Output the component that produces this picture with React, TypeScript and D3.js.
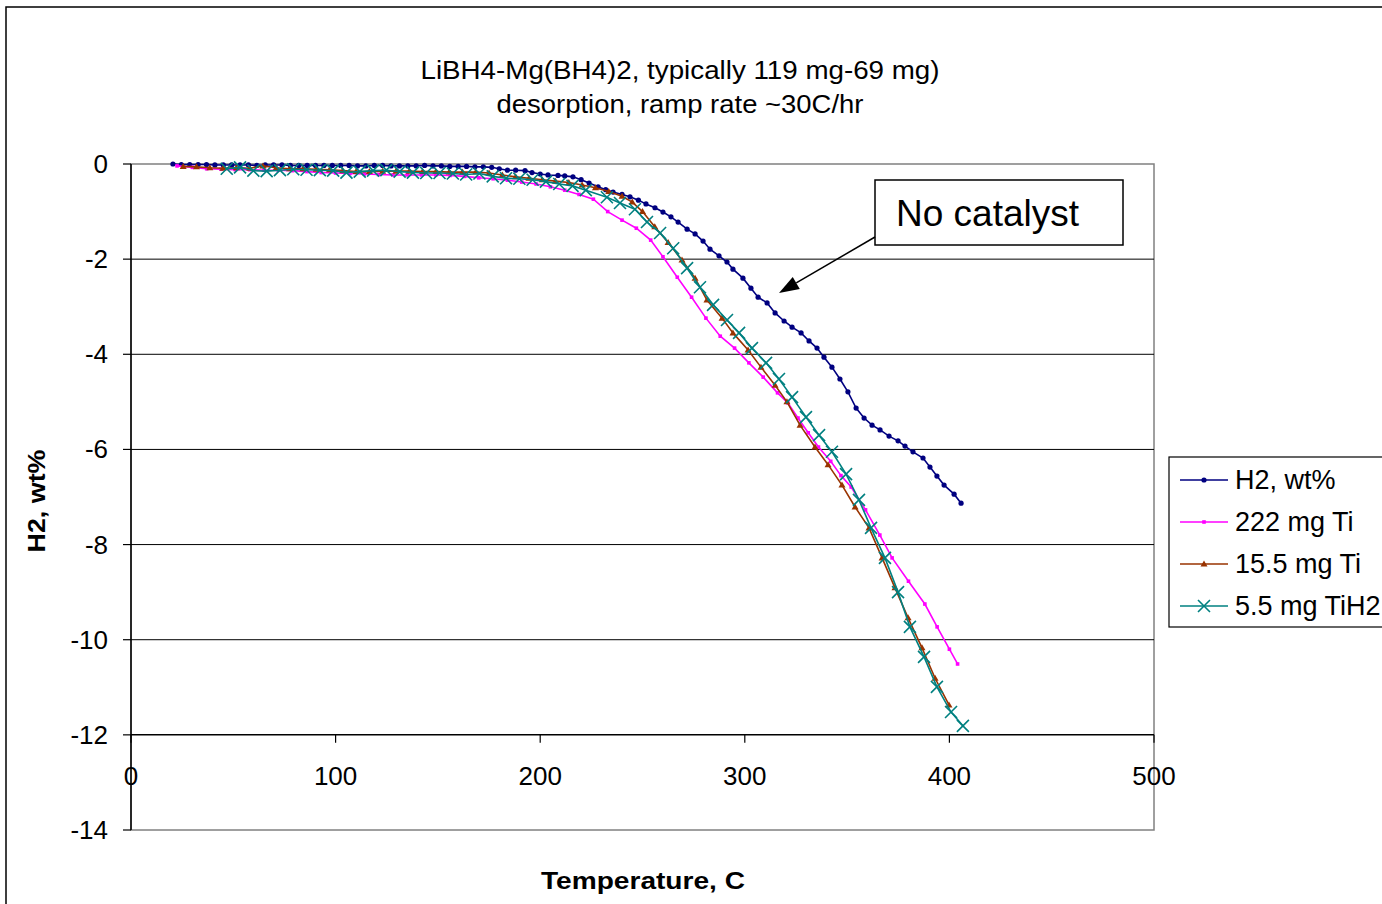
import React from "react";
import * as d3 from "d3";

const titleLines = ["LiBH4-Mg(BH4)2, typically 119 mg-69 mg)", "desorption, ramp rate ~30C/hr"];
const titleWidths = [519, 367];
const xTicks = [0, 100, 200, 300, 400, 500];
const yTicks = [0, -2, -4, -6, -8, -10, -12, -14];
const seriesNames = ["H2, wt%", "222 mg Ti", "15.5 mg Ti", "5.5 mg TiH2"];

const blueT = [20.5, 24.6, 28.7, 32.8, 36.9, 41, 45.1, 49.2, 53.3, 57.4, 61.5, 65.6, 69.7, 73.8, 77.9, 82, 86.1, 90.2, 94.3, 98.4, 102.5, 106.6, 110.7, 114.8, 118.9, 123, 127.1, 131.2, 135.3, 139.4, 143.5, 147.6, 151.7, 155.8, 159.9, 164, 168.1, 172.2, 176.3, 180, 184, 188, 192.6, 196, 200, 203.8, 208.7, 212, 216, 220, 223.9, 228.3, 232, 235.6, 240, 243.9, 248, 251.7, 256.1, 260, 263.9, 267.4, 271.8, 275.7, 279.6, 283, 287.4, 291.3, 294.2, 299.1, 303, 306.5, 310.9, 314.8, 319.2, 323.1, 327.5, 331.4, 335.3, 338.7, 342.6, 346.5, 350.4, 354.4, 358.3, 362.2, 366.1, 370.5, 374.9, 378.3, 382.2, 387.1, 390.5, 393.9, 397.4, 402.3, 405.7];
const blueV = [0, -0.01, -0.01, -0.01, -0.01, -0.02, -0.02, -0.02, -0.02, -0.02, -0.03, -0.02, -0.02, -0.02, -0.03, -0.03, -0.03, -0.03, -0.03, -0.03, -0.03, -0.03, -0.04, -0.04, -0.03, -0.03, -0.04, -0.04, -0.04, -0.04, -0.03, -0.04, -0.04, -0.05, -0.05, -0.05, -0.06, -0.06, -0.07, -0.1, -0.13, -0.13, -0.14, -0.18, -0.21, -0.23, -0.24, -0.25, -0.27, -0.33, -0.4, -0.48, -0.54, -0.59, -0.64, -0.69, -0.76, -0.84, -0.92, -1.01, -1.11, -1.22, -1.37, -1.47, -1.62, -1.79, -1.93, -2.06, -2.21, -2.4, -2.61, -2.8, -2.92, -3.13, -3.3, -3.43, -3.55, -3.72, -3.87, -4.06, -4.27, -4.52, -4.79, -5.13, -5.34, -5.49, -5.59, -5.72, -5.82, -5.93, -6.05, -6.18, -6.37, -6.56, -6.75, -6.94, -7.13];

const pinkT = [22.5, 30, 37, 44, 51, 58, 65, 72, 79, 86, 93, 100, 107, 114, 121, 128, 135, 142, 149, 156, 163, 170, 177, 184, 191, 198, 205, 212, 219, 226, 233, 240, 247, 254, 260, 267, 274, 281, 288, 295, 302, 309, 316, 321, 326, 331, 336, 342, 347, 352, 359, 366, 372, 380, 388, 394, 400, 404];
const pinkV = [-0.04, -0.07, -0.1, -0.11, -0.12, -0.12, -0.13, -0.13, -0.14, -0.16, -0.18, -0.19, -0.2, -0.21, -0.22, -0.23, -0.23, -0.23, -0.23, -0.24, -0.26, -0.29, -0.31, -0.34, -0.38, -0.42, -0.48, -0.55, -0.64, -0.74, -1.0, -1.18, -1.35, -1.6, -1.95, -2.38, -2.8, -3.24, -3.62, -3.87, -4.18, -4.48, -4.81, -5.02, -5.34, -5.65, -5.95, -6.25, -6.55, -6.79, -7.27, -7.8, -8.28, -8.77, -9.25, -9.73, -10.2, -10.51];

const brownT = [25.5, 32, 38.5, 45, 51.5, 58, 64.5, 71, 77.5, 84, 90.5, 97, 103.5, 110, 116.5, 123, 129.5, 136, 142.5, 149, 155.5, 162, 168.5, 175, 181.5, 188, 194.5, 201, 207.5, 214, 220.5, 227, 233.5, 240, 245, 250, 256, 262.5, 269.3, 275.7, 281.5, 288.9, 294.2, 301.6, 307.9, 314.8, 320.6, 327, 334.3, 340.7, 347.5, 353.9, 360.7, 367.1, 373.4, 379.8, 386.6, 393, 399.8];
const brownV = [-0.05, -0.06, -0.08, -0.09, -0.08, -0.09, -0.04, -0.08, -0.1, -0.1, -0.11, -0.12, -0.14, -0.16, -0.16, -0.15, -0.15, -0.15, -0.16, -0.16, -0.17, -0.17, -0.17, -0.19, -0.23, -0.27, -0.3, -0.33, -0.36, -0.39, -0.44, -0.5, -0.58, -0.68, -0.8, -1.0, -1.32, -1.65, -2.02, -2.4, -2.86, -3.24, -3.55, -3.91, -4.27, -4.65, -5.0, -5.49, -5.95, -6.32, -6.75, -7.21, -7.65, -8.28, -8.91, -9.54, -10.17, -10.81, -11.37];

const tealT = [46.8, 53.3, 59.8, 66.3, 72.8, 79.3, 85.8, 92.3, 98.8, 105.3, 111.8, 118.3, 124.8, 131.3, 137.8, 144.3, 150.8, 157.3, 163.8, 170.3, 176.8, 183.3, 189.8, 196.3, 202.8, 209.3, 215.8, 222.3, 232.6, 239, 246.3, 252.2, 258.6, 265, 271.8, 278.1, 284.5, 291.3, 297.2, 303.5, 310.4, 316.7, 323.1, 329.9, 336.3, 342.6, 349.5, 355.8, 361.7, 368.5, 374.9, 380.7, 387.6, 393.9, 400.8, 406.6];
const tealV = [-0.1, -0.07, -0.14, -0.15, -0.13, -0.11, -0.12, -0.13, -0.14, -0.18, -0.16, -0.14, -0.13, -0.16, -0.18, -0.19, -0.19, -0.2, -0.22, -0.2, -0.26, -0.3, -0.31, -0.33, -0.37, -0.42, -0.46, -0.55, -0.7, -0.82, -0.95, -1.22, -1.45, -1.77, -2.19, -2.59, -2.96, -3.28, -3.55, -3.87, -4.18, -4.52, -4.9, -5.32, -5.7, -6.05, -6.52, -7.06, -7.65, -8.28, -9.0, -9.73, -10.36, -10.99, -11.52, -11.81];

const colors = ["#000080", "#FF00FF", "#993300", "#008080"];

const FONT = "Liberation Sans, Arial, sans-serif";

export default function App() {
  const W = 1382, H = 904;
  const x = d3.scaleLinear().domain([0, 500]).range([131, 1154]);
  const y = d3.scaleLinear().domain([0, -14]).range([164, 830]);
  const line = d3.line<[number, number]>().x(d => x(d[0])).y(d => y(d[1]));

  const series = [
    blueT.map((t, i) => [t, blueV[i]] as [number, number]),
    pinkT.map((t, i) => [t, pinkV[i]] as [number, number]),
    brownT.map((t, i) => [t, brownV[i]] as [number, number]),
    tealT.map((t, i) => [t, tealV[i]] as [number, number]),
  ];

  const marker = (k: number, cx: number, cy: number, key: string | number) => {
    const c = colors[k];
    if (k === 0) return <circle key={key} cx={cx} cy={cy} r={2.6} fill={c} />;
    if (k === 1) return <rect key={key} x={cx - 1.8} y={cy - 1.8} width={3.6} height={3.6} fill={c} />;
    if (k === 2) return <path key={key} d={`M${cx},${cy - 3.5}L${cx + 3.5},${cy + 2.5}L${cx - 3.5},${cy + 2.5}Z`} fill={c} />;
    return <path key={key} d={`M${cx - 6},${cy - 6}L${cx + 6},${cy + 6}M${cx - 6},${cy + 6}L${cx + 6},${cy - 6}`} stroke={c} strokeWidth={1.6} fill="none" />;
  };

  const legendY = [480, 522, 564, 606];

  const ax1 = 875, ay1 = 237, ax2 = 779, ay2 = 293;
  const ang = Math.atan2(ay2 - ay1, ax2 - ax1);
  const hl = 20, hw = 7;
  const bx = ax2 - hl * Math.cos(ang), by = ay2 - hl * Math.sin(ang);
  const px = -Math.sin(ang) * hw, py = Math.cos(ang) * hw;

  return (
    <svg width={W} height={H} style={{ position: "absolute", left: 0, top: 0, background: "#fff" }} fontFamily={FONT}>
      <rect x={0} y={0} width={W} height={H} fill="#fff" />
      <rect x={6} y={7} width={1400} height={920} fill="none" stroke="#000" strokeWidth={1.5} />
      {titleLines.map((t, i) => (
        <text key={i} x={680} y={79 + i * 34} textAnchor="middle" fontSize={25} textLength={titleWidths[i]} lengthAdjust="spacingAndGlyphs">{t}</text>
      ))}
      <rect x={131} y={164} width={1023} height={666} fill="none" stroke="#808080" strokeWidth={1.5} />
      {yTicks.filter(v => v < 0 && v > -12).map(v => (
        <line key={v} x1={131} x2={1154} y1={y(v)} y2={y(v)} stroke="#000" strokeWidth={1} />
      ))}
      <line x1={131} x2={131} y1={164} y2={830} stroke="#000" strokeWidth={1.5} />
      {yTicks.map(v => (
        <g key={v}>
          <line x1={123} x2={131} y1={y(v)} y2={y(v)} stroke="#000" strokeWidth={1.2} />
          <text x={108} y={y(v) + 9} textAnchor="end" fontSize={26}>{v}</text>
        </g>
      ))}
      <line x1={131} x2={1154} y1={y(-12)} y2={y(-12)} stroke="#000" strokeWidth={1.5} />
      {xTicks.map(v => (
        <g key={v}>
          <line x1={x(v)} x2={x(v)} y1={y(-12)} y2={y(-12) + 8} stroke="#000" strokeWidth={1.2} />
          <text x={x(v)} y={y(-12) + 50} textAnchor="middle" fontSize={26}>{v}</text>
        </g>
      ))}
      {series.map((s, k) => (
        <g key={k}>
          <path d={line(s) || ""} fill="none" stroke={colors[k]} strokeWidth={1.6} />
          {s.map((d, i) => marker(k, x(d[0]), y(d[1]), i))}
        </g>
      ))}
      <text x={643} y={889} textAnchor="middle" fontSize={24} fontWeight="bold" textLength={204} lengthAdjust="spacingAndGlyphs">Temperature, C</text>
      <text transform={`translate(45,501) rotate(-90)`} textAnchor="middle" fontSize={24} fontWeight="bold" textLength={103} lengthAdjust="spacingAndGlyphs">H2, wt%</text>
      <rect x={875} y={180} width={248} height={65} fill="#fff" stroke="#000" strokeWidth={1.5} />
      <text x={896} y={226} fontSize={37}>No catalyst</text>
      <line x1={ax1} y1={ay1} x2={bx} y2={by} stroke="#000" strokeWidth={1.5} />
      <path d={`M${ax2},${ay2}L${bx + px},${by + py}L${bx - px},${by - py}Z`} fill="#000" />
      <rect x={1169} y={457} width={240} height={170} fill="#fff" stroke="#000" strokeWidth={1.2} />
      {seriesNames.map((n, k) => (
        <g key={k}>
          <line x1={1180} x2={1228} y1={legendY[k]} y2={legendY[k]} stroke={colors[k]} strokeWidth={1.6} />
          {marker(k, 1204, legendY[k], "m")}
          <text x={1235} y={legendY[k] + 9} fontSize={27}>{n}</text>
        </g>
      ))}
    </svg>
  );
}
